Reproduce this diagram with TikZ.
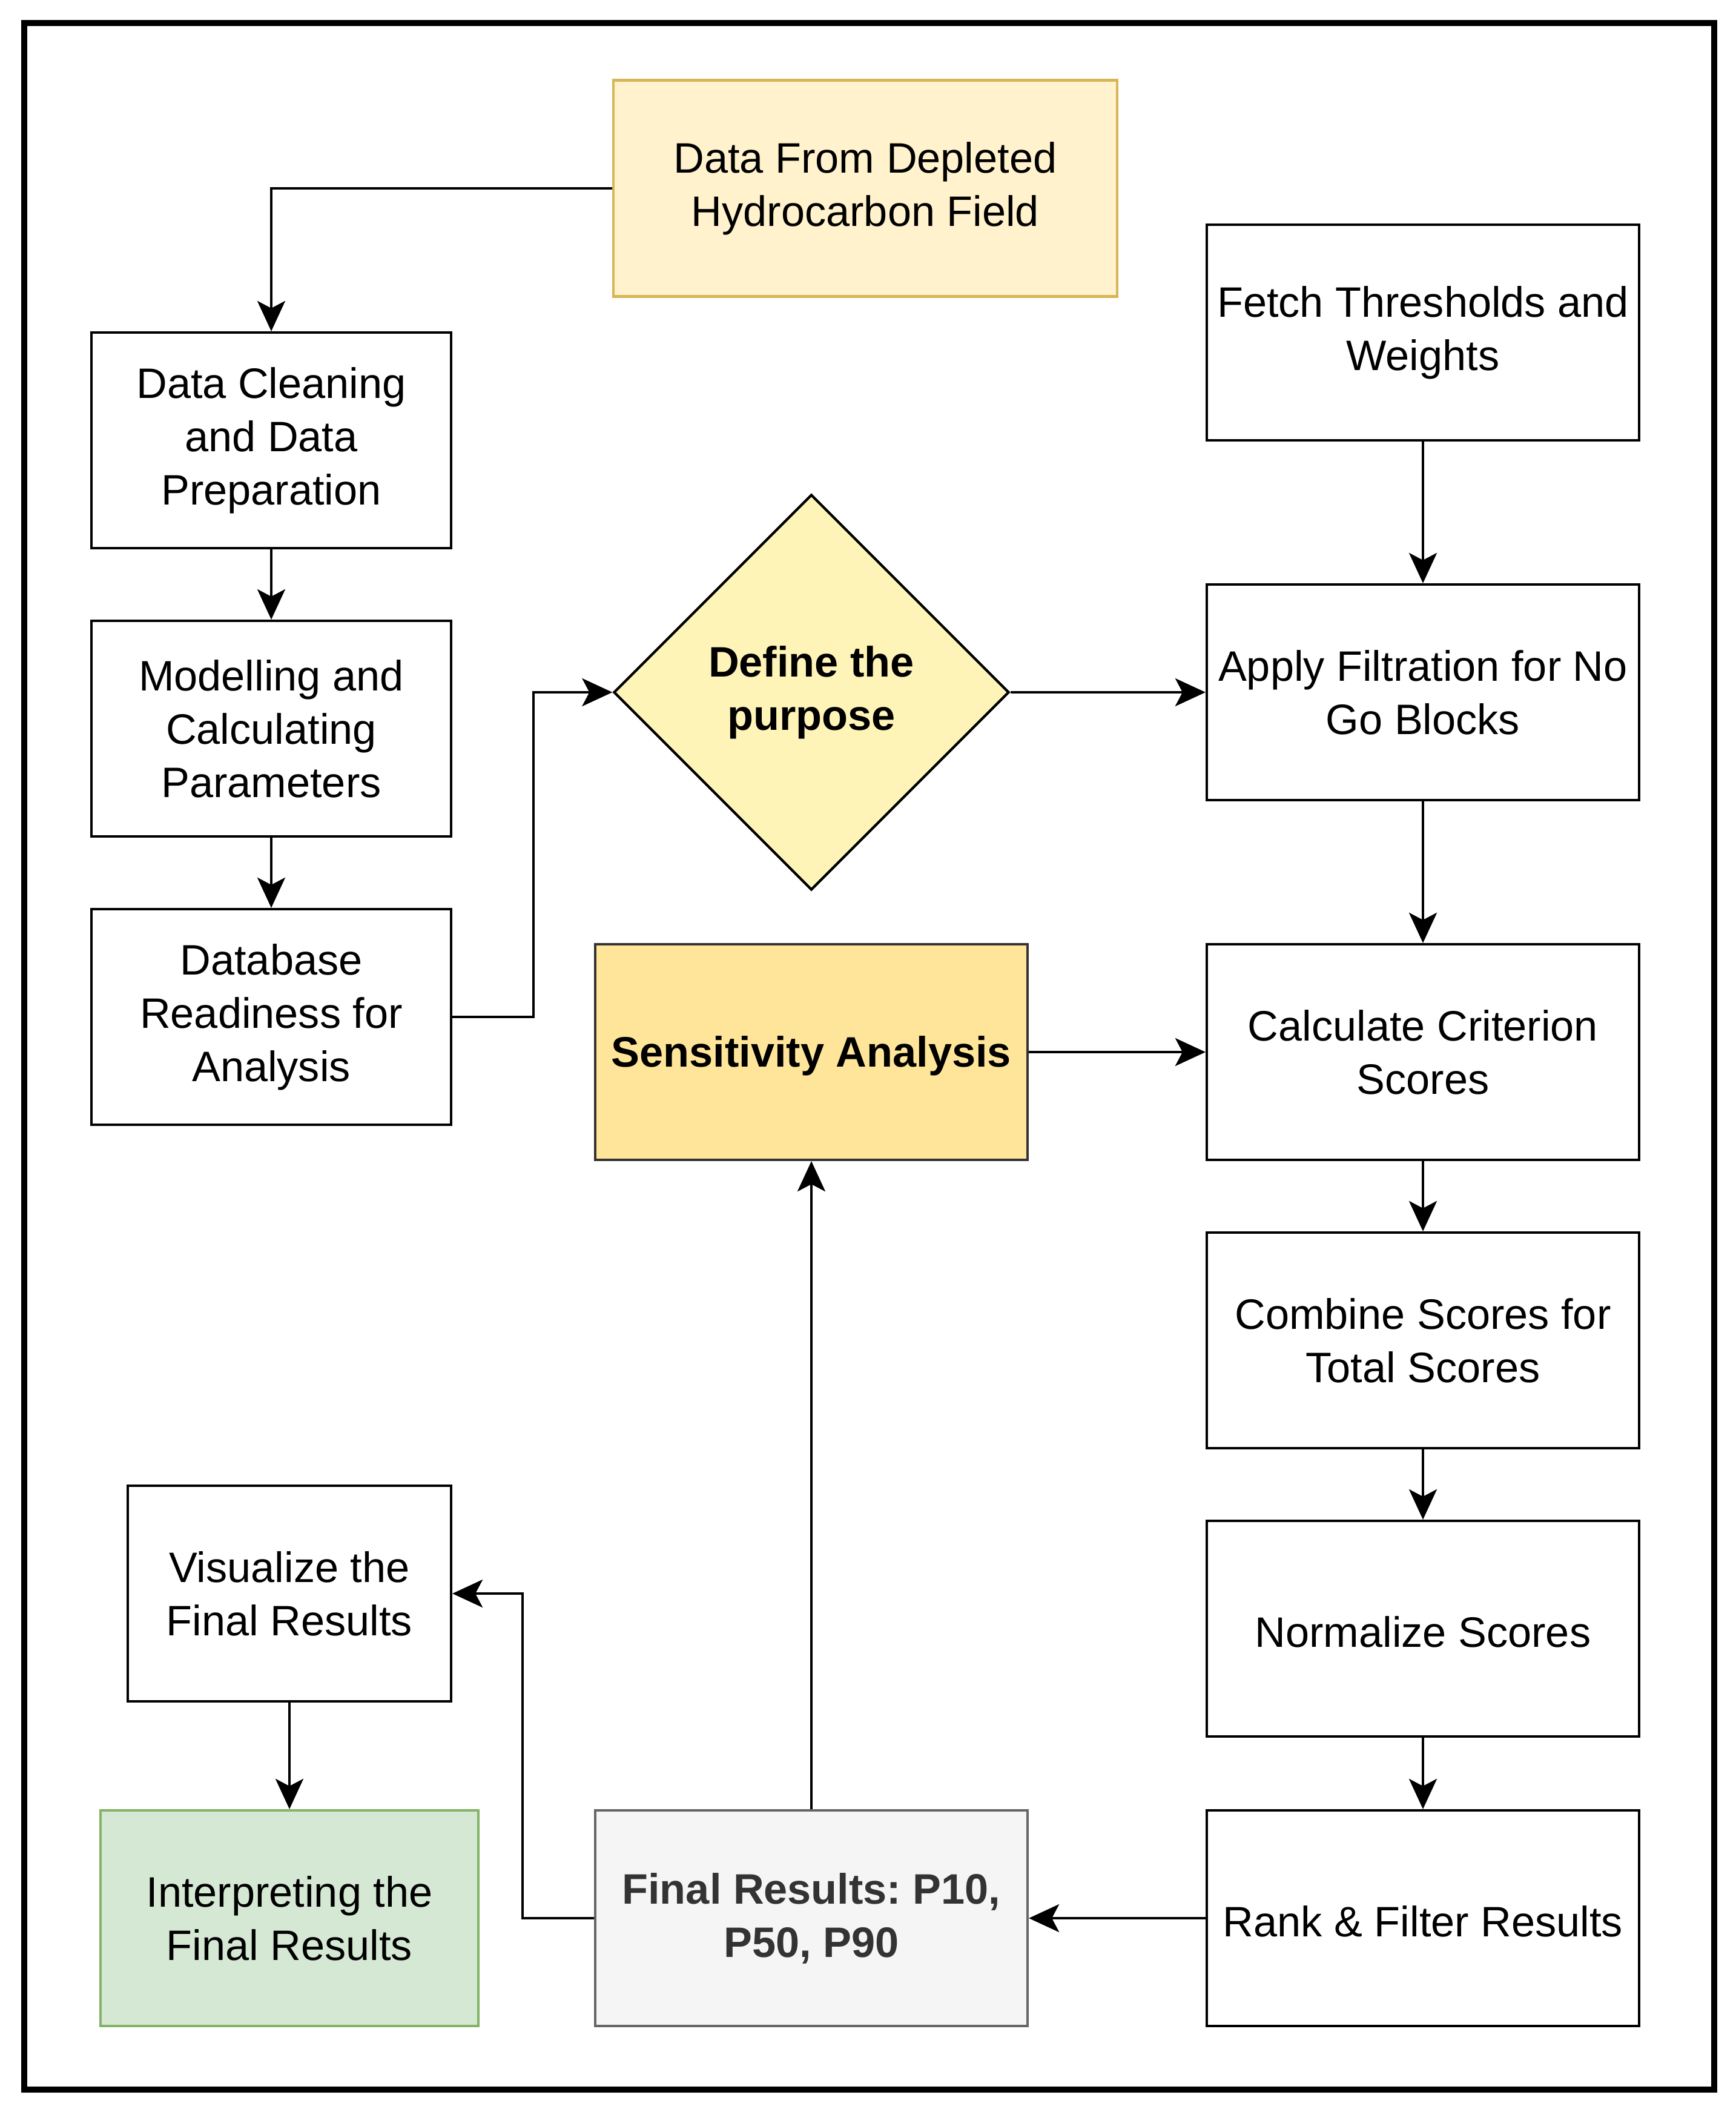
\documentclass[tikz,border=0pt]{standalone}
\usepackage{fontspec}
\setmainfont{Liberation Sans}
\usepackage{tikz}
\usetikzlibrary{shapes, arrows.meta, positioning}
\usepackage{xcolor}
\frenchspacing

\definecolor{srcfill}{HTML}{FFF2CC}
\definecolor{srcline}{HTML}{D6B656}
\definecolor{purpfill}{HTML}{FFF4B8}
\definecolor{sensfill}{HTML}{FFE599}
\definecolor{finfill}{HTML}{F5F5F5}
\definecolor{finline}{HTML}{666666}
\definecolor{fintext}{HTML}{333333}
\definecolor{intfill}{HTML}{D5E8D4}
\definecolor{intline}{HTML}{82B366}

\begin{document}
\begin{tikzpicture}[y=-1cm,
	txt/.style={align=center, font=\fontsize{20}{25}\selectfont,
		execute at begin node={\rule{0pt}{17.8pt}}},
	box/.style={txt, draw, line width=1.2pt, inner sep=0pt,
		minimum width=7.14cm, minimum height=3.56cm},
	narrow/.style={box, minimum width=5.94cm},
	arr/.style={line width=1.2pt, -{Stealth[length=0.5cm, width=0.46cm, inset=0.12cm]}}]
			\useasboundingbox (0,0) rectangle (28.67,34.87);
			% 外框
			\draw[line width=2.6pt] (0.40,0.38) rectangle (28.31,34.50);
			
			% 左列
			\node[box, draw=srcline, fill=srcfill, minimum width=8.32cm, minimum height=3.57cm] (src) at (14.29,3.11) {Data From Depleted\\Hydrocarbon Field};
			\node[narrow] (clean) at (4.48,7.27) {Data Cleaning\\and Data\\Preparation};
			\node[narrow] (model) at (4.48,12.03) {Modelling and\\Calculating\\Parameters};
			\node[narrow] (dbase) at (4.48,16.79) {Database\\Readiness for\\Analysis};
			
			% 中间
			\node[txt, draw, diamond, aspect=1, line width=1.2pt, fill=purpfill, minimum size=6.53cm, inner sep=0pt, font=\fontsize{20}{25}\selectfont\bfseries] (purpose) at (13.40,11.43) {Define the\\purpose};
			\node[box, draw=fintext, fill=sensfill, font=\fontsize{20}{25}\selectfont\bfseries] (sens) at (13.40,17.37) {Sensitivity Analysis};
			\node[box, draw=finline, fill=finfill, text=fintext, font=\fontsize{20}{25}\selectfont\bfseries] (final) at (13.40,31.67) {Final Results: P10,\\P50, P90};
			
			% 右列
			\node[box] (fetch) at (23.50,5.49) {Fetch Thresholds and\\Weights};
			\node[box] (filt) at (23.50,11.43) {Apply Filtration for No\\Go Blocks};
			\node[box] (calc) at (23.50,17.37) {Calculate Criterion\\Scores};
			\node[box] (comb) at (23.50,22.13) {Combine Scores for\\Total Scores};
			\node[box] (norm) at (23.50,26.89) {Normalize Scores};
			\node[box] (rank) at (23.50,31.67) {Rank \& Filter Results};
			
			% 左下
			\node[box, minimum width=5.34cm] (vis) at (4.78,26.31) {Visualize the\\Final Results};
			\node[box, draw=intline, fill=intfill, minimum width=6.24cm] (interp) at (4.78,31.67) {Interpreting the\\Final Results};
			
			% 连线
			\draw[arr] (src.west) -| (clean.north);
			\draw[arr] (clean) -- (model);
			\draw[arr] (model) -- (dbase);
			\draw[arr] (dbase.east) -- ++(1.34,0) |- (purpose.west);
			\draw[arr] (purpose.east) -- (filt.west);
			\draw[arr] (fetch) -- (filt);
			\draw[arr] (filt) -- (calc);
			\draw[arr] (calc) -- (comb);
			\draw[arr] (comb) -- (norm);
			\draw[arr] (norm) -- (rank);
			\draw[arr] (sens) -- (calc);
			\draw[arr] (rank) -- (final);
			\draw[arr] (final) -- (sens);
			\draw[arr] (final.west) -- ++(-1.18,0) |- (vis.east);
			\draw[arr] (vis) -- (interp);
		\end{tikzpicture}
\end{document}
